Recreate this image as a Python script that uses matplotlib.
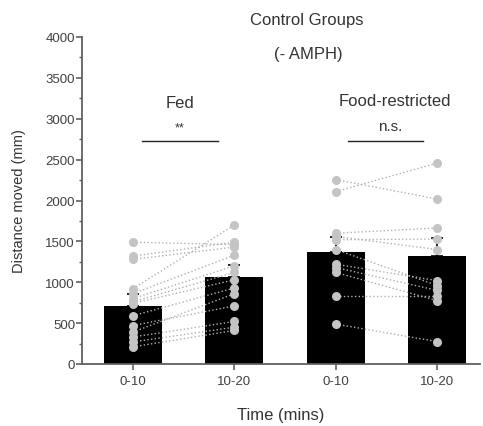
import matplotlib
matplotlib.use("Agg")
import matplotlib.pyplot as plt
from matplotlib.ticker import MultipleLocator

plt.rcParams["font.family"] = ["Liberation Sans", "DejaVu Sans"]

# bar data (means and SEM)
tick_labels = ["0-10", "10-20", "0-10", "10-20"]
bar_means = [710, 1060, 1375, 1315]
bar_sems = [150, 155, 180, 230]

# individual animals, paired 0-10 -> 10-20
fed_0_10 = [1490, 1320, 1280, 920, 860, 800, 760, 740, 590, 470, 390, 330, 270, 210]
fed_10_20 = [1460, 1490, 1430, 1700, 1330, 1200, 1120, 1030, 930, 710, 860, 520, 450, 410]
fr_0_10 = [2255, 2108, 1600, 1560, 1520, 1400, 1220, 1180, 1120, 836, 489]
fr_10_20 = [2018, 2459, 1664, 1400, 1529, 960, 1020, 900, 775, 836, 273]

W, H = 483, 427
fig = plt.figure(figsize=(W / 100, H / 100), dpi=100)
ax = fig.add_axes([82 / W, 1 - 365 / H, (480 - 82) / W, (365 - 38) / H])

xpos = [1, 2, 3, 4]
ax.bar(xpos, bar_means, width=0.57, color="black", zorder=1)

# only the upper half of the error bar shows above the black bar
ax.errorbar(xpos, bar_means, yerr=[[0] * 4, bar_sems], fmt="none", ecolor="black",
            elinewidth=1.2, capsize=4, capthick=1.2, zorder=1.5)

dot_col = "#c4c4c4"
for x0, a, b in [(1, fed_0_10, fed_10_20), (3, fr_0_10, fr_10_20)]:
    for ya, yb in zip(a, b):
        ax.plot([x0, x0 + 1], [ya, yb], ls=":", color="#b0b0b0", lw=1.0, zorder=2)
    ax.plot([x0] * len(a), a, "o", color=dot_col, ms=6.5, mec="none", zorder=3)
    ax.plot([x0 + 1] * len(b), b, "o", color=dot_col, ms=6.5, mec="none", zorder=3)

ax.set_xlim(0.5, 4.42)
ax.set_ylim(0, 4000)
ax.set_xticks(xpos)
ax.set_xticklabels(tick_labels)
ax.yaxis.set_major_locator(MultipleLocator(500))
ax.yaxis.set_minor_locator(MultipleLocator(250))

axc = "#606060"
for s in ["top", "right"]:
    ax.spines[s].set_visible(False)
for s in ["left", "bottom"]:
    ax.spines[s].set_color(axc)
    ax.spines[s].set_linewidth(1.3)
ax.tick_params(axis="both", which="major", length=4, width=1.2, color=axc,
               labelsize=9.5, labelcolor="#404040")
ax.tick_params(axis="y", which="minor", length=2.5, width=1.0, color=axc)
ax.tick_params(axis="y", pad=1)
ax.tick_params(axis="x", pad=4)

ax.set_ylabel("Distance moved (mm)", fontsize=10.5, color="#333333", labelpad=14)
ax.set_xlabel("Time (mins)", fontsize=12, color="#333333", labelpad=14)

txt = "#333333"
def ftext(px, py, s, size=12):
    fig.text(px / W, 1 - py / H, s, ha="center", va="center", fontsize=size, color=txt)

ftext(307, 21, "Control Groups")
ftext(308, 54, "(- AMPH)")
ftext(180, 104, "Fed")
ftext(395, 102, "Food-restricted")
ftext(180, 128, "**", size=9)
ftext(390, 127, "n.s.", size=11)

# significance lines
for x1, x2 in [(142, 218), (348, 423)]:
    fig.add_artist(plt.Line2D([x1 / W, x2 / W], [1 - 142 / H, 1 - 142 / H],
                              color="#222222", lw=1.0))

fig.savefig("out.png", dpi=100)
